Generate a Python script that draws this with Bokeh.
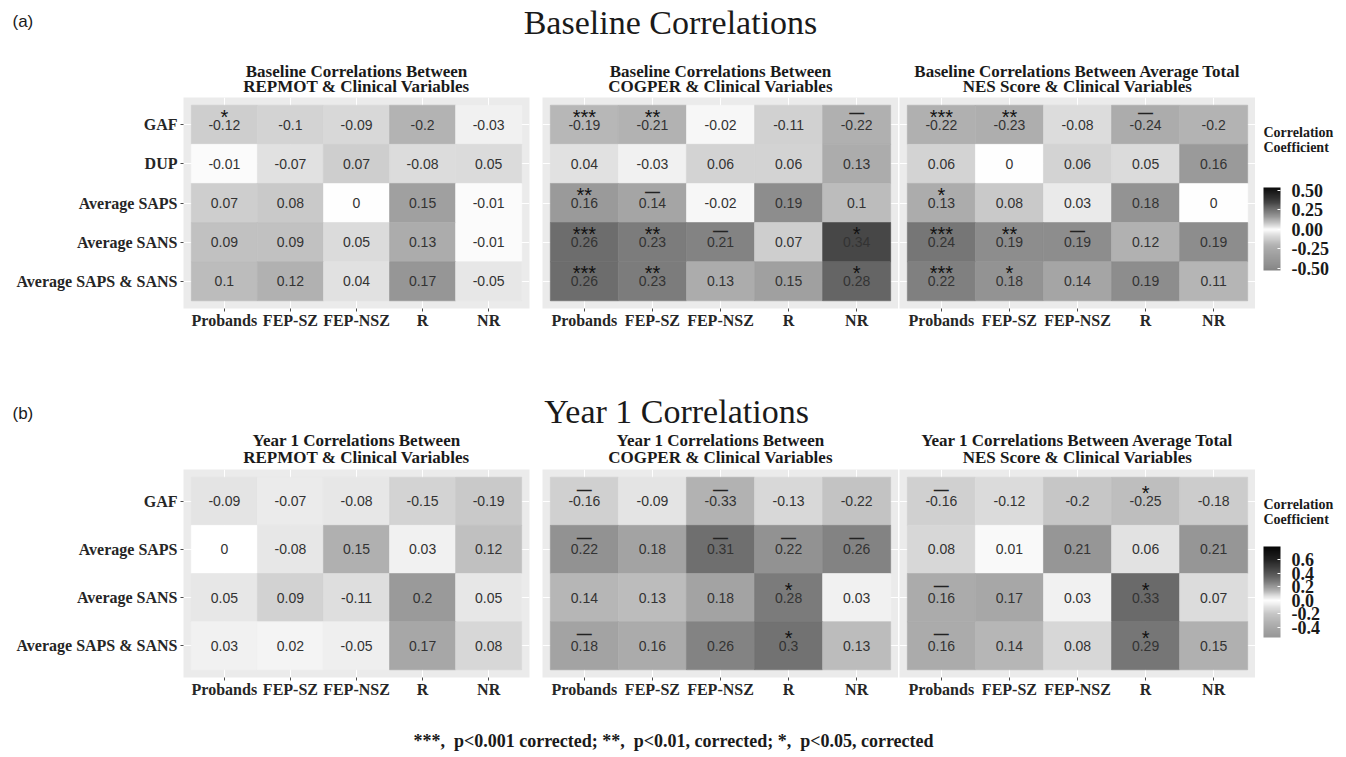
import numpy as np
from bokeh.plotting import figure
from bokeh.models import (ColumnDataSource, FactorRange, Range1d, LinearColorMapper,
                          ColorBar, FixedTicker, PrintfTickFormatter, Label, AllLabels)
from bokeh.transform import transform
from bokeh.layouts import column, row
from bokeh.core.properties import value
from bokeh.embed import file_html
from bokeh.resources import INLINE

# ---------------- data ----------------
groups = ["Probands", "FEP-SZ", "FEP-NSZ", "R", "NR"]
rows_base = ["GAF", "DUP", "Average SAPS", "Average SANS", "Average SAPS & SANS"]
rows_year1 = ["GAF", "Average SAPS", "Average SANS", "Average SAPS & SANS"]

base_repmot = [[-0.12, -0.1, -0.09, -0.2, -0.03],
               [-0.01, -0.07, 0.07, -0.08, 0.05],
               [0.07, 0.08, 0, 0.15, -0.01],
               [0.09, 0.09, 0.05, 0.13, -0.01],
               [0.1, 0.12, 0.04, 0.17, -0.05]]
base_repmot_sig = [["*", "", "", "", ""],
                   ["", "", "", "", ""],
                   ["", "", "", "", ""],
                   ["", "", "", "", ""],
                   ["", "", "", "", ""]]

base_cogper = [[-0.19, -0.21, -0.02, -0.11, -0.22],
               [0.04, -0.03, 0.06, 0.06, 0.13],
               [0.16, 0.14, -0.02, 0.19, 0.1],
               [0.26, 0.23, 0.21, 0.07, 0.34],
               [0.26, 0.23, 0.13, 0.15, 0.28]]
base_cogper_sig = [["***", "**", "", "", "—"],
                   ["", "", "", "", ""],
                   ["**", "—", "", "", ""],
                   ["***", "**", "—", "", "*"],
                   ["***", "**", "", "", "*"]]

base_nes = [[-0.22, -0.23, -0.08, -0.24, -0.2],
            [0.06, 0, 0.06, 0.05, 0.16],
            [0.13, 0.08, 0.03, 0.18, 0],
            [0.24, 0.19, 0.19, 0.12, 0.19],
            [0.22, 0.18, 0.14, 0.19, 0.11]]
base_nes_sig = [["***", "**", "", "—", ""],
                ["", "", "", "", ""],
                ["*", "", "", "", ""],
                ["***", "**", "—", "", ""],
                ["***", "*", "", "", ""]]

y1_repmot = [[-0.09, -0.07, -0.08, -0.15, -0.19],
             [0, -0.08, 0.15, 0.03, 0.12],
             [0.05, 0.09, -0.11, 0.2, 0.05],
             [0.03, 0.02, -0.05, 0.17, 0.08]]
y1_repmot_sig = [["", "", "", "", ""],
                 ["", "", "", "", ""],
                 ["", "", "", "", ""],
                 ["", "", "", "", ""]]

y1_cogper = [[-0.16, -0.09, -0.33, -0.13, -0.22],
             [0.22, 0.18, 0.31, 0.22, 0.26],
             [0.14, 0.13, 0.18, 0.28, 0.03],
             [0.18, 0.16, 0.26, 0.3, 0.13]]
y1_cogper_sig = [["—", "", "—", "", ""],
                 ["—", "", "—", "—", "—"],
                 ["", "", "", "*", ""],
                 ["—", "", "", "*", ""]]

y1_nes = [[-0.16, -0.12, -0.2, -0.25, -0.18],
          [0.08, 0.01, 0.21, 0.06, 0.21],
          [0.16, 0.17, 0.03, 0.33, 0.07],
          [0.16, 0.14, 0.08, 0.29, 0.15]]
y1_nes_sig = [["—", "", "", "*", ""],
              ["", "", "", "", ""],
              ["—", "", "", "*", ""],
              ["—", "", "", "*", ""]]

base_ticks = [-0.5, -0.25, 0.0, 0.25, 0.5]
y1_ticks = [-0.4, -0.2, 0.0, 0.2, 0.4, 0.6]

titles_base = ["Baseline Correlations Between", "REPMOT & Clinical Variables",
               "Baseline Correlations Between", "COGPER & Clinical Variables",
               "Baseline Correlations Between Average Total", "NES Score & Clinical Variables"]
titles_y1 = ["Year 1 Correlations Between", "REPMOT & Clinical Variables",
             "Year 1 Correlations Between", "COGPER & Clinical Variables",
             "Year 1 Correlations Between Average Total", "NES Score & Clinical Variables"]
footnote = "***,\u00a0 p<0.001 corrected; **,\u00a0 p<0.01, corrected; *,\u00a0 p<0.05, corrected"

# ---------------- style ----------------
SERIF = "Liberation Serif"
SANS = "Liberation Sans"
TXT = "#262626"


def gray_palette(kv, kg, low, high, n=256):
    vs = np.linspace(low, high, n)
    g = np.interp(vs, kv, kg)
    return ["#%02x%02x%02x" % (int(round(x)), int(round(x)), int(round(x))) for x in g]


map_a = LinearColorMapper(
    palette=gray_palette([-0.53, -0.5, -0.25, -0.2, -0.1, -0.05, 0, 0.05, 0.1, 0.15, 0.2, 0.25, 0.3, 0.35, 0.4, 0.54],
                         [132, 138, 170, 180, 212, 232, 255, 218, 188, 160, 137, 115, 92, 68, 50, 12],
                         -0.53, 0.54),
    low=-0.53, high=0.54)
map_b = LinearColorMapper(
    palette=gray_palette([-0.55, -0.4, -0.33, -0.2, -0.1, 0, 0.05, 0.1, 0.15, 0.2, 0.3, 0.4, 0.6, 0.8],
                         [150, 168, 178, 198, 225, 255, 230, 205, 175, 155, 115, 85, 35, 5],
                         -0.55, 0.8),
    low=-0.55, high=0.8)


def fmt(v):
    s = "%g" % v
    return "0" if s in ("-0", "0") else s


def panel(vals, sig, rows, mapper, left, frame_w, right, height, frame_h, show_y):
    xs, ys, vs, labs, stars, bars = [], [], [], [], [], []
    for i, r in enumerate(rows):
        for j, g in enumerate(groups):
            xs.append(g)
            ys.append(r)
            vs.append(vals[i][j])
            labs.append(fmt(vals[i][j]))
            s = sig[i][j]
            stars.append(s if s != "—" else "")
            bars.append("—" if s == "—" else "")
    src = ColumnDataSource(dict(x=xs, y=ys, v=vs, lab=labs, star=stars, bar=bars))
    col_w = (frame_w - 8) / len(groups)
    row_h = (frame_h - 8) / len(rows)
    xr = FactorRange(factors=groups, range_padding=8 / col_w, range_padding_units="absolute")
    yr = FactorRange(factors=rows[::-1], range_padding=8 / row_h, range_padding_units="absolute")
    p = figure(width=left + frame_w + right, height=height, x_range=xr, y_range=yr,
               output_backend="svg", toolbar_location=None, tools="", title=None,
               min_border_left=left, min_border_right=right, min_border_top=0,
               min_border_bottom=height - frame_h)
    p.background_fill_color = "#ebebeb"
    p.border_fill_color = "white"
    p.outline_line_color = None
    p.xgrid.grid_line_color = "white"
    p.ygrid.grid_line_color = "white"
    p.rect(x="x", y="y", width=1, height=1, source=src,
           fill_color=transform("v", mapper), line_color=transform("v", mapper), line_width=0.6)
    p.text(x="x", y="y", text="lab", source=src, text_font=value(SANS), text_font_size="14px",
           text_color="#333333", text_align="center", text_baseline="middle")
    p.text(x="x", y="y", text="star", source=src, text_font=value(SANS), text_font_size="20px",
           text_color="#111111", text_align="center", text_baseline="middle", y_offset=-8)
    p.text(x="x", y="y", text="bar", source=src, text_font=value(SANS), text_font_size="15px",
           text_font_style="bold", text_color="#222222", text_align="center",
           text_baseline="middle", y_offset=-12)
    for ax in (p.xaxis[0], p.yaxis[0]):
        ax.axis_line_color = None
        ax.major_tick_line_color = "#4d4d4d"
        ax.major_tick_out = 3
        ax.major_tick_in = 0
        ax.major_label_text_font = SERIF
        ax.major_label_text_font_size = "16px"
        ax.major_label_text_font_style = "bold"
        ax.major_label_text_color = TXT
    p.xaxis[0].major_label_standoff = 0
    p.yaxis[0].major_label_standoff = 3
    if not show_y:
        p.yaxis.visible = False
    return p


def text_fig(w, h, labels):
    f = figure(width=w, height=h, x_range=Range1d(0, w), y_range=Range1d(h, 0),
               min_border=0, x_axis_location=None, y_axis_location=None,
               toolbar_location=None, tools="", output_backend="svg", title=None)
    f.grid.visible = False
    f.outline_line_color = None
    f.background_fill_color = "white"
    f.border_fill_color = "white"
    for (x, y, t, font, size, style, align) in labels:
        f.add_layout(Label(x=x, y=y, text=t, text_font=font, text_font_size=size,
                           text_font_style=style, text_align=align, text_baseline="middle",
                           text_color="#1a1a1a"))
    return f


def cbar_fig(mapper, ticks, tfmt, height, bar_h, bar_bottom, t1, t2, lab_size):
    f = text_fig(91, height, [(8, t1, "Correlation", SERIF, "14px", "bold", "left"),
                              (8, t2, "Coefficient", SERIF, "14px", "bold", "left")])
    cb = ColorBar(color_mapper=mapper, ticker=FixedTicker(ticks=ticks),
                  formatter=PrintfTickFormatter(format=tfmt), orientation="vertical",
                  width=17, height=bar_h, location=(8, bar_bottom), padding=0, margin=0,
                  label_standoff=11, major_tick_in=3, major_tick_out=0,
                  major_tick_line_color="white", bar_line_color=None, border_line_color=None,
                  background_fill_color="white", major_label_text_font=SERIF,
                  major_label_text_font_style="bold", major_label_text_font_size=lab_size,
                  major_label_text_color="#1a1a1a", major_label_policy=AllLabels())
    f.add_layout(cb, "center")
    return f


# ---------------- layout ----------------
HA, FA = 238, 211
HB, FB = 235, 208

pa1 = panel(base_repmot, base_repmot_sig, rows_base, map_a, 183, 346, 2, HA, FA, True)
pa2 = panel(base_cogper, base_cogper_sig, rows_base, map_a, 11, 356, 0, HA, FA, False)
pa3 = panel(base_nes, base_nes_sig, rows_base, map_a, 1, 356, 0, HA, FA, False)
cba = cbar_fig(map_a, base_ticks, "%.2f", HA, 83, 38, 40, 56, "18px")

pb1 = panel(y1_repmot, y1_repmot_sig, rows_year1, map_b, 183, 346, 2, HB, FB, True)
pb2 = panel(y1_cogper, y1_cogper_sig, rows_year1, map_b, 11, 356, 0, HB, FB, False)
pb3 = panel(y1_nes, y1_nes_sig, rows_year1, map_b, 1, 356, 0, HB, FB, False)
cbb = cbar_fig(map_b, y1_ticks, "%.1f", HB, 91, 40, 40, 57, "18px")

centers = [356, 720, 1077]
hdr_a_labels = [(12, 21, "(a)", SANS, "17px", "normal", "left"),
                (670, 22, "Baseline Correlations", SERIF, "34px", "normal", "center")]
hdr_b_labels = [(12, 78, "(b)", SANS, "17px", "normal", "left"),
                (676, 76, "Year 1 Correlations", SERIF, "34px", "normal", "center")]
for k, cx in enumerate(centers):
    hdr_a_labels.append((cx, 70.5, titles_base[2 * k], SERIF, "17px", "bold", "center"))
    hdr_a_labels.append((cx, 86, titles_base[2 * k + 1], SERIF, "17px", "bold", "center"))
    hdr_b_labels.append((cx, 105, titles_y1[2 * k], SERIF, "17px", "bold", "center"))
    hdr_b_labels.append((cx, 122, titles_y1[2 * k + 1], SERIF, "17px", "bold", "center"))

hdr_a = text_fig(1346, 97, hdr_a_labels)
hdr_b = text_fig(1346, 134, hdr_b_labels)
footer = text_fig(1346, 53, [(673, 36, footnote, SERIF, "18px", "bold", "center")])

layout = column(hdr_a, row(pa1, pa2, pa3, cba), hdr_b, row(pb1, pb2, pb3, cbb), footer)

open("out.html", "w").write(file_html(layout, INLINE))
